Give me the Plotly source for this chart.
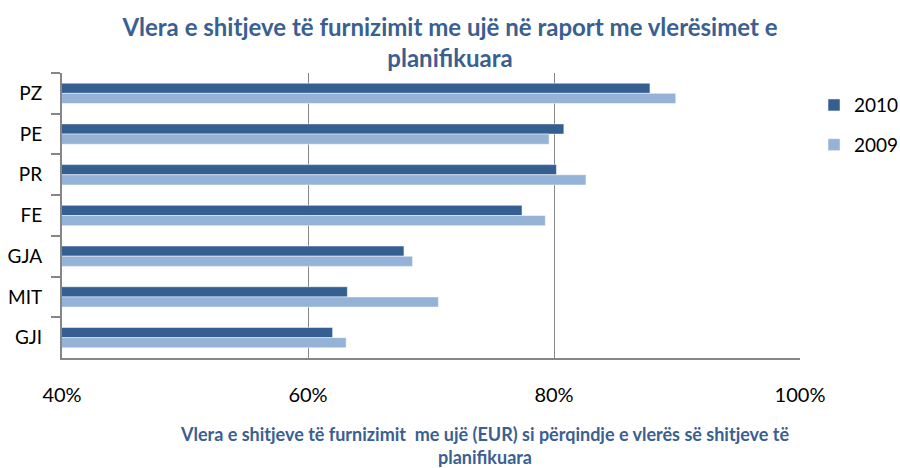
import plotly.graph_objects as go

categories = ["PZ", "PE", "PR", "FE", "GJA", "MIT", "GJI"]
values_2010 = [0.878, 0.808, 0.802, 0.774, 0.678, 0.632, 0.620]
values_2009 = [0.899, 0.796, 0.826, 0.793, 0.685, 0.706, 0.631]
series_names = ["2010", "2009"]
x_ticks = [0.4, 0.6, 0.8, 1.0]
x_tick_labels = ["40%", "60%", "80%", "100%"]

title_text = "Vlera e shitjeve të furnizimit me ujë në raport me vlerësimet e<br>planifikuara"
xtitle_text = "Vlera e shitjeve të furnizimit  me ujë (EUR) si përqindje e vlerës së shitjeve të<br>planifikuara"

C2010 = "#365F91"
C2009 = "#95B3D7"
AXIS = "#868686"
TITLE_C = "#3A6092"
FONT = "Lato, 'Open Sans', sans-serif"

fig = go.Figure()
fig.add_trace(go.Bar(
    y=categories, x=values_2010, name=series_names[0], orientation="h",
    marker=dict(color=C2010, line=dict(color="rgba(255,255,255,0.7)", width=0.7)),
    legendgroup="a",
))
fig.add_trace(go.Bar(
    y=categories, x=values_2009, name=series_names[1], orientation="h",
    marker=dict(color=C2009, line=dict(color="rgba(255,255,255,0.7)", width=0.7)),
    legendgroup="b",
))

fig.update_layout(
    width=900, height=468,
    margin=dict(l=62, r=100, t=73, b=110, autoexpand=False),
    paper_bgcolor="white", plot_bgcolor="white",
    barmode="group", bargap=0.5, bargroupgap=0,
    font=dict(family=FONT, size=19, color="#000000"),
    title=dict(text=title_text, x=0.5, xref="container", xanchor="center",
               y=0.923, yanchor="top",
               font=dict(family=FONT, size=24, color=TITLE_C, weight="bold")),
    legend=dict(x=1.019, y=0.954, xanchor="left", yanchor="top",
                traceorder="grouped", tracegroupgap=12,
                font=dict(family=FONT, size=19, color="#000000"),
                itemwidth=30, bgcolor="rgba(0,0,0,0)"),
    showlegend=True,
)

fig.update_xaxes(
    range=[0.4, 1.0], tickvals=x_ticks, ticktext=x_tick_labels,
    showgrid=True, gridcolor=AXIS, gridwidth=1,
    showline=True, linecolor=AXIS, linewidth=2, mirror=False,
    ticks="", ticklabelstandoff=18, zeroline=False, automargin=False,
    tickfont=dict(family=FONT, size=20, color="#000000"),
)
fig.update_yaxes(
    type="category", categoryorder="array", categoryarray=categories,
    autorange="reversed", automargin=False,
    showline=True, linecolor=AXIS, linewidth=2,
    ticks="outside", tickson="boundaries", ticklen=9, tickcolor=AXIS, tickwidth=2,
    showgrid=False, ticklabelstandoff=14,
    tickfont=dict(family=FONT, size=19, color="#000000"),
)

fig.add_annotation(
    text=xtitle_text, xref="paper", yref="paper",
    x=(485 - 62) / 738, y=-0.222, xanchor="center", yanchor="top",
    showarrow=False, align="center",
    font=dict(family=FONT, size=18, color=TITLE_C, weight="bold"),
)

fig.write_html("out.html", config={"displayModeBar": False},
               post_script="document.body.style.margin='0';")
